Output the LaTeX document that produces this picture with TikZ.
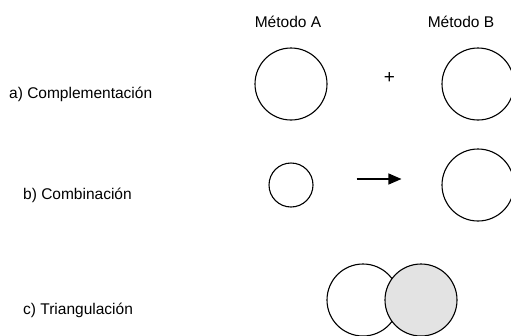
\documentclass[tikz,border=0pt]{standalone}
\usepackage{fontspec}
\setmainfont{Liberation Sans}
\usetikzlibrary{arrows.meta}

\begin{document}
\begin{tikzpicture}[x=1pt,y=-1pt,font=\fontsize{15.5}{18}\selectfont,
  set/.style={draw,circle,line width=1.1pt,inner sep=0pt,minimum size=72pt},
  lbl/.style={anchor=base west,inner sep=0pt}]
\useasboundingbox (0,0) rectangle (511,335);
\node[anchor=base,inner sep=0pt] (mA) at (288,27) {Método A};
\node[anchor=base,inner sep=0pt] (mB) at (461,27) {Método B};
\node[lbl] (la) at (9,98)  {a) Complementación};
\node[lbl] (lb) at (23,199) {b) Combinación};
\node[lbl] (lc) at (23,314) {c) Triangulación};
% a)
\node[set] (a1) at (291,84) {};
\node[font=\fontsize{19}{20}\selectfont,inner sep=0pt] (plus) at (389.5,78.5) {+};
\node[set] (a2) at (478,84) {};
% b)
\node[set,minimum size=44pt] (b1) at (291,185) {};
\node[set] (b2) at (478,185) {};
\draw[line width=1.1pt,-{Triangle[length=13pt,width=11pt]}]
  ([shift={(43,-6)}]b1.east) -- ([shift={(-40,-6)}]b2.west);
% c)
\node[set] (c1) at (363,300) {};
\node[set,fill=black!11] (c2) at (421,300) {};
\end{tikzpicture}
\end{document}
